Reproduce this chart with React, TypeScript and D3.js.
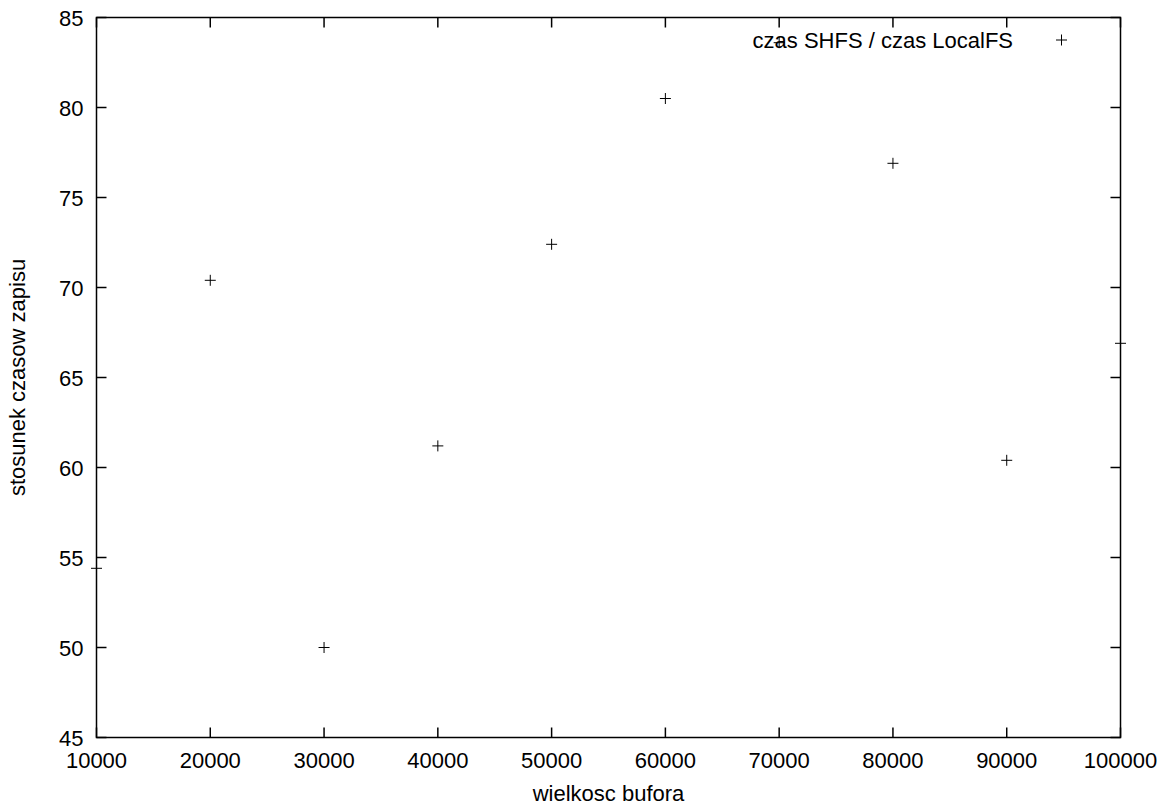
import React, { useEffect, useRef } from "react";
import * as d3 from "d3";

// buffer sizes and write-time ratio SHFS / LocalFS
const bufferSizes = [10000, 20000, 30000, 40000, 50000, 60000, 70000, 80000, 90000, 100000];
const ratios = [54.4, 70.4, 50.0, 61.2, 72.4, 80.5, 83.6, 76.9, 60.4, 66.9];
const xTicks = [10000, 20000, 30000, 40000, 50000, 60000, 70000, 80000, 90000, 100000];
const yTicks = [45, 50, 55, 60, 65, 70, 75, 80, 85];
const seriesLabel = "czas SHFS / czas LocalFS";
const xTitle = "wielkosc bufora";
const yTitle = "stosunek czasow zapisu";

const App = () => {
  const svgRef = useRef<SVGSVGElement>(null);

  useEffect(() => {
    const width = 1172;
    const height = 807;
    const margin = { left: 96.5, right: 51.5, top: 17.5, bottom: 69.5 };
    const font = "'Liberation Sans', Arial, sans-serif";
    const fs = 22;
    const tickLen = 10;

    const svg = d3.select(svgRef.current).attr("width", width).attr("height", height);
    svg.selectAll("*").remove();

    const x = d3.scaleLinear().domain([10000, 100000]).range([margin.left, width - margin.right]);
    const y = d3.scaleLinear().domain([45, 85]).range([height - margin.bottom, margin.top]);

    const g = svg.append("g").attr("stroke", "#000").attr("stroke-width", 1.5).attr("fill", "none");

    // ticks, mirrored on top and right
    xTicks.forEach((t) => {
      g.append("line").attr("x1", x(t)).attr("x2", x(t)).attr("y1", y(45)).attr("y2", y(45) - tickLen);
      g.append("line").attr("x1", x(t)).attr("x2", x(t)).attr("y1", y(85)).attr("y2", y(85) + tickLen);
    });
    yTicks.forEach((t) => {
      g.append("line").attr("x1", x(10000)).attr("x2", x(10000) + tickLen).attr("y1", y(t)).attr("y2", y(t));
      g.append("line").attr("x1", x(100000)).attr("x2", x(100000) - tickLen).attr("y1", y(t)).attr("y2", y(t));
    });

    // frame
    g.append("rect")
      .attr("x", x(10000))
      .attr("y", y(85))
      .attr("width", x(100000) - x(10000))
      .attr("height", y(45) - y(85));

    const labels = svg.append("g").attr("font-family", font).attr("font-size", fs).attr("fill", "#000");

    labels
      .selectAll("text.xt")
      .data(xTicks)
      .enter()
      .append("text")
      .attr("x", (d) => x(d))
      .attr("y", y(45) + 30)
      .attr("text-anchor", "middle")
      .text((d) => String(d));

    labels
      .selectAll("text.yt")
      .data(yTicks)
      .enter()
      .append("text")
      .attr("x", x(10000) - 13)
      .attr("y", (d) => y(d) + 8)
      .attr("text-anchor", "end")
      .text((d) => String(d));

    labels
      .append("text")
      .attr("x", (x(10000) + x(100000)) / 2)
      .attr("y", 801)
      .attr("text-anchor", "middle")
      .text(xTitle);

    labels
      .append("text")
      .attr("transform", `translate(25, ${(y(45) + y(85)) / 2}) rotate(-90)`)
      .attr("text-anchor", "middle")
      .text(yTitle);

    // legend
    labels
      .append("text")
      .attr("x", 1013)
      .attr("y", 48)
      .attr("text-anchor", "end")
      .text(seriesLabel);

    const plus = (cx: number, cy: number) => `M${cx - 5.5},${cy}H${cx + 5.5}M${cx},${cy - 5.5}V${cy + 5.5}`;

    const marks = svg.append("g").attr("stroke", "#000").attr("stroke-width", 1).attr("fill", "none");
    marks.append("path").attr("d", plus(1061.5, 40));

    marks
      .selectAll("path.pt")
      .data(bufferSizes.map((b, i) => ({ b, r: ratios[i] })))
      .enter()
      .append("path")
      .attr("d", (d) => plus(x(d.b), y(d.r)));
  }, []);

  return <svg ref={svgRef} style={{ position: "absolute", left: 0, top: 0, background: "#fff" }}></svg>;
};

export default App;
